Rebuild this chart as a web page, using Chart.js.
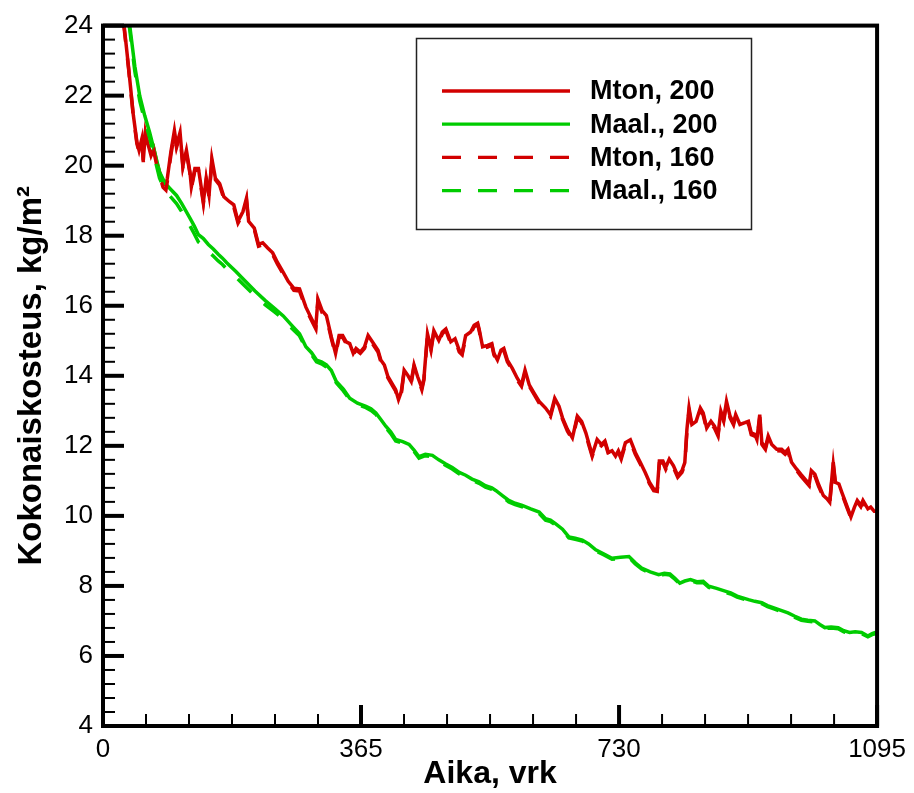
<!DOCTYPE html>
<html><head><meta charset="utf-8">
<script src="https://cdn.jsdelivr.net/npm/chart.js@4.4.1/dist/chart.umd.min.js"></script>
<style>html,body{margin:0;padding:0;background:#fff}#wrap{width:914px;height:793px}</style>
</head><body><div id="wrap"><canvas id="c" width="914" height="793"></canvas></div>
<script>
const xTickValues = [0, 365, 730, 1095];
const yMin = 4, yMax = 24, yStep = 2;
const xTitle = 'Aika, vrk';
const yTitle = 'Kokonaiskosteus, kg/m²';
const seriesLabels = ['Mton, 200', 'Maal., 200', 'Mton, 160', 'Maal., 160'];

const mtonDays = [
  22,30,36,43,48,51,55,57,60,63,
  68,72,76,80,85,89,91,96,101,104,
  109,113,118,123,125,130,135,142,146,150,
  154,159,165,171,179,185,191,198,203,206,
  214,220,226,233,240,247,255,262,270,278,
  287,295,301,304,310,316,323,329,334,339,
  344,349,354,358,364,370,375,381,389,393,
  398,403,410,414,418,422,426,431,436,440,
  445,451,454,459,464,468,475,480,485,492,
  498,504,508,513,520,525,530,532,537,544,
  550,553,558,563,567,572,579,586,592,597,
  603,610,617,626,633,639,645,650,657,664,
  671,677,683,687,692,699,705,710,715,720,
  725,729,733,739,746,753,760,767,773,779,
  784,787,792,796,801,807,813,819,823,826,
  829,833,839,845,849,854,860,865,870,874,
  878,882,887,892,895,901,908,913,917,922,
  925,929,932,937,941,946,953,960,965,969,
  974,981,987,993,999,1002,1007,1012,1019,1024,
  1028,1033,1036,1041,1045,1052,1058,1063,1067,1072,
  1075,1082,1086,1091,1095
];
const mton200 = [
  25.2,23.97,22.84,21.43,20.67,20.44,20.77,20.15,20.95,20.67,
  20.29,20.48,20.1,19.82,19.49,19.45,19.64,20.39,21.0,20.58,
  20.95,20.0,20.44,19.82,19.40,19.92,19.92,18.97,19.64,19.16,
  20.2,19.64,19.49,19.11,18.97,18.88,18.41,18.69,19.07,18.41,
  18.22,17.75,17.80,17.65,17.51,17.23,16.95,16.70,16.50,16.48,
  15.96,15.63,15.39,16.19,15.86,15.72,15.11,14.64,15.15,15.15,
  14.97,14.92,14.64,14.78,14.68,14.83,15.15,14.97,14.73,14.45,
  14.31,13.98,13.74,13.60,13.32,13.55,14.16,14.02,13.84,14.31,
  13.98,13.65,13.93,15.2,14.78,15.29,15.01,15.25,15.34,14.97,
  15.06,14.73,14.64,15.15,15.25,15.44,15.50,15.34,14.83,14.87,
  14.92,14.64,14.45,14.73,14.78,14.45,14.21,13.93,13.74,14.16,
  13.74,13.5,13.27,13.08,12.89,13.36,13.13,12.80,12.47,12.23,
  12.85,12.70,12.37,12.09,11.74,12.18,12.04,12.14,11.81,11.86,
  11.71,11.86,11.67,12.09,12.17,11.81,11.53,11.24,10.96,10.77,
  10.73,11.57,11.57,11.38,11.62,11.43,11.15,11.29,11.52,12.47,
  13.08,12.61,12.70,13.08,12.94,12.51,12.70,12.56,12.33,12.99,
  12.75,13.27,12.85,12.66,12.89,12.61,12.66,12.70,12.37,12.33,
  12.18,12.89,12.09,11.95,12.28,12.04,11.90,11.90,11.81,11.90,
  11.53,11.34,11.19,11.05,10.91,11.29,11.19,10.91,10.58,10.49,
  10.39,11.53,10.96,10.91,10.68,10.30,9.97,10.25,10.44,10.30,
  10.44,10.20,10.25,10.13,10.13
];
const mton160 = [
  25.1,23.90,22.80,21.38,20.62,20.40,20.70,20.10,20.88,20.60,
  20.22,20.40,20.02,19.72,19.38,19.30,19.55,20.30,20.92,20.52,
  20.88,19.95,20.36,19.78,19.36,19.86,19.88,18.92,19.58,19.12,
  20.12,19.60,19.44,19.05,18.92,18.82,18.36,18.62,19.00,18.36,
  18.18,17.70,17.74,17.60,17.46,17.18,16.90,16.66,16.44,16.42,
  15.92,15.58,15.34,16.12,15.80,15.68,15.06,14.60,15.10,15.10,
  14.92,14.88,14.60,14.74,14.64,14.78,15.10,14.92,14.68,14.40,
  14.26,13.94,13.70,13.56,13.28,13.50,14.12,13.98,13.80,14.26,
  13.94,13.60,13.88,15.14,14.72,15.24,14.96,15.20,15.30,14.92,
  15.02,14.68,14.60,15.10,15.20,15.40,15.46,15.30,14.78,14.82,
  14.88,14.60,14.40,14.68,14.72,14.40,14.16,13.88,13.70,14.10,
  13.70,13.46,13.22,13.04,12.84,13.30,13.08,12.76,12.42,12.18,
  12.80,12.66,12.32,12.04,11.70,12.12,12.00,12.10,11.76,11.82,
  11.66,11.82,11.62,12.04,12.12,11.76,11.48,11.20,10.92,10.72,
  10.70,11.50,11.52,11.33,11.56,11.38,11.10,11.24,11.46,12.40,
  13.00,12.56,12.64,13.02,12.88,12.46,12.64,12.50,12.28,12.92,
  12.70,13.20,12.80,12.60,12.84,12.56,12.60,12.64,12.32,12.28,
  12.14,12.82,12.04,11.90,12.22,11.98,11.86,11.85,11.76,11.85,
  11.48,11.30,11.14,11.00,10.86,11.24,11.14,10.86,10.54,10.44,
  10.35,11.46,10.92,10.86,10.64,10.26,9.94,10.20,10.40,10.26,
  10.40,10.16,10.20,10.10,10.10
];

const maalDays = [
  30,38,45,52,59,66,73,80,88,97,
  104,111,117,123,129,135,142,149,156,163,
  169,175,188,200,215,230,243,255,267,278,
  287,295,302,309,316,323,330,340,349,360,
  372,379,386,393,400,407,414,424,433,440,
  447,456,466,475,485,494,504,513,522,532,
  541,550,556,565,574,583,593,605,617,626,
  633,640,650,659,668,678,687,697,708,720,
  732,744,753,762,774,786,794,802,809,816,
  823,831,840,849,857,868,880,888,897,905,
  913,922,932,940,948,958,969,978,988,997,
  1007,1014,1021,1030,1040,1048,1056,1064,1073,1082,
  1088,1092,1095
];
const maal200 = [
  25.2,23.97,22.84,21.99,21.43,20.95,20.39,19.82,19.49,19.30,
  19.15,18.93,18.72,18.50,18.28,18.03,17.92,17.75,17.62,17.47,
  17.36,17.23,16.98,16.73,16.42,16.14,15.92,15.71,15.44,15.20,
  14.83,14.66,14.45,14.40,14.31,14.15,13.84,13.62,13.36,13.22,
  13.13,13.06,12.94,12.75,12.56,12.40,12.18,12.12,12.04,11.88,
  11.69,11.76,11.73,11.60,11.48,11.38,11.24,11.16,11.05,10.97,
  10.86,10.80,10.72,10.58,10.44,10.36,10.30,10.20,10.11,9.92,
  9.88,9.78,9.62,9.40,9.36,9.31,9.20,9.03,8.92,8.79,
  8.82,8.84,8.66,8.51,8.40,8.32,8.36,8.34,8.22,8.08,
  8.14,8.18,8.12,8.13,7.99,7.93,7.85,7.80,7.71,7.66,
  7.61,7.56,7.52,7.44,7.38,7.31,7.23,7.14,7.05,7.02,
  7.00,6.90,6.81,6.83,6.81,6.72,6.67,6.69,6.67,6.57,
  6.64,6.67,6.65
];
const maal160 = [
  25.1,23.85,22.70,21.85,21.28,20.80,20.22,19.64,19.28,19.08,
  18.92,18.70,18.48,18.28,18.06,17.82,17.72,17.55,17.42,17.28,
  17.18,17.05,16.82,16.58,16.28,16.02,15.82,15.62,15.36,15.14,
  14.78,14.60,14.40,14.34,14.25,14.10,13.80,13.57,13.32,13.18,
  13.09,13.01,12.90,12.70,12.52,12.35,12.14,12.08,12.00,11.84,
  11.65,11.72,11.69,11.56,11.44,11.34,11.20,11.12,11.01,10.93,
  10.82,10.76,10.68,10.54,10.40,10.32,10.26,10.16,10.07,9.88,
  9.84,9.74,9.58,9.37,9.33,9.28,9.17,9.00,8.89,8.76,
  8.79,8.81,8.63,8.48,8.37,8.29,8.33,8.31,8.19,8.05,
  8.11,8.15,8.09,8.10,7.96,7.90,7.82,7.77,7.68,7.63,
  7.58,7.53,7.49,7.41,7.35,7.28,7.20,7.11,7.02,6.99,
  6.97,6.87,6.78,6.80,6.78,6.69,6.64,6.66,6.64,6.55,
  6.61,6.63,6.62
];

const RED = 'rgb(210,0,0)';
const GREEN = 'rgb(0,204,0)';
const FONT = '"Liberation Sans", Arial, Helvetica, sans-serif';
const DASH = [19, 17];

function pts(days, vals) {
  const n = Math.min(days.length, vals.length);
  const out = [];
  for (let i = 0; i < n; i++) out.push({x: days[i], y: vals[i]});
  return out;
}

const frameTicks = {
  id: 'frameTicks',
  afterDatasetsDraw(chart) {
    const {ctx, chartArea: a, scales: {x, y}} = chart;
    ctx.save();
    ctx.strokeStyle = '#000';
    ctx.lineCap = 'butt';
    for (let k = 0; k <= 50; k++) {
      const v = yMin + k * 0.4;
      const py = y.getPixelForValue(v);
      const major = k % 5 === 0;
      ctx.lineWidth = major ? 4 : 2;
      ctx.beginPath();
      ctx.moveTo(a.left, py);
      ctx.lineTo(a.left + (major ? 21 : 12), py);
      ctx.stroke();
    }
    for (let k = 0; k <= 18; k++) {
      const v = k * 365 / 6;
      const px = x.getPixelForValue(v);
      const major = k % 6 === 0;
      ctx.lineWidth = major ? 4 : 2;
      ctx.beginPath();
      ctx.moveTo(px, a.bottom);
      ctx.lineTo(px, a.bottom - (major ? 21 : 12));
      ctx.stroke();
    }
    ctx.lineWidth = 4;
    ctx.lineJoin = 'miter';
    ctx.strokeRect(a.left, a.top, a.right - a.left, a.bottom - a.top);
    ctx.restore();
  }
};

const legendBox = {
  id: 'legendBox',
  afterDraw(chart) {
    const {ctx} = chart;
    ctx.save();
    ctx.fillStyle = '#fff';
    ctx.fillRect(416.5, 38.5, 335, 191);
    ctx.strokeStyle = '#222';
    ctx.lineWidth = 1.5;
    ctx.strokeRect(416.5, 38.5, 335, 191);
    const ds = chart.data.datasets;
    ctx.font = 'bold 27px ' + FONT;
    ctx.textBaseline = 'middle';
    ctx.textAlign = 'left';
    for (let i = 0; i < ds.length; i++) {
      const ry = 91 + i * 33.2;
      ctx.strokeStyle = ds[i].borderColor;
      ctx.lineWidth = 3.3;
      ctx.setLineDash(ds[i].borderDash || []);
      ctx.beginPath();
      ctx.moveTo(442, ry);
      ctx.lineTo(570, ry);
      ctx.stroke();
      ctx.setLineDash([]);
      ctx.fillStyle = '#000';
      ctx.fillText(ds[i].label, 590, ry + 1);
    }
    ctx.restore();
  }
};

new Chart(document.getElementById('c'), {
  type: 'line',
  data: {
    datasets: [
      {label: seriesLabels[0], data: pts(mtonDays, mton200), borderColor: RED, borderWidth: 3.5, pointRadius: 0, tension: 0, order: 4},
      {label: seriesLabels[1], data: pts(maalDays, maal200), borderColor: GREEN, borderWidth: 3.5, pointRadius: 0, tension: 0, order: 3},
      {label: seriesLabels[2], data: pts(mtonDays, mton160), borderColor: RED, borderWidth: 3.5, borderDash: DASH, pointRadius: 0, tension: 0, order: 2},
      {label: seriesLabels[3], data: pts(maalDays, maal160), borderColor: GREEN, borderWidth: 3.5, borderDash: DASH, pointRadius: 0, tension: 0, order: 1}
    ]
  },
  options: {
    responsive: false,
    animation: false,
    events: [],
    layout: {padding: {left: 0, right: 35, top: 19, bottom: 0}},
    plugins: {legend: {display: false}, tooltip: {enabled: false}},
    scales: {
      x: {
        type: 'linear', min: 0, max: 1095,
        afterBuildTicks: (s) => { s.ticks = xTickValues.map(v => ({value: v})); },
        afterFit: (s) => { s.height = 67; },
        grid: {display: false, drawTicks: false, tickLength: 0},
        border: {display: false},
        ticks: {color: '#000', padding: 8, maxRotation: 0, autoSkip: false, callback: (v) => String(v), font: {family: FONT, size: 26}},
        title: {display: true, text: xTitle, color: '#000', padding: {top: 0, bottom: 0}, font: {family: FONT, size: 32, weight: 'bold', lineHeight: 1.2}}
      },
      y: {
        type: 'linear', min: yMin, max: yMax,
        afterFit: (s) => { s.width = 103; },
        grid: {display: false, drawTicks: false, tickLength: 0},
        border: {display: false},
        ticks: {stepSize: yStep, color: '#000', padding: 10, callback: (v) => String(v), font: {family: FONT, size: 26}},
        title: {display: true, text: yTitle, color: '#000', padding: {top: 12, bottom: 0}, font: {family: FONT, size: 33, weight: 'bold', lineHeight: 1.2}}
      }
    }
  },
  plugins: [frameTicks, legendBox]
});
</script>
</body></html>
